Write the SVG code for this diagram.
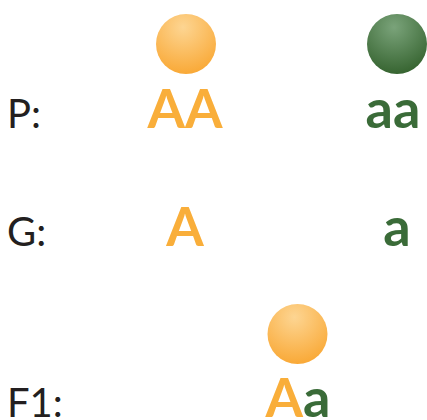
<svg xmlns="http://www.w3.org/2000/svg" width="427" height="420" viewBox="0 0 427 420">
<style>
.lbl{font-family:Lato,"Liberation Sans",sans-serif;font-size:40px;fill:#231f20}
.g{font-family:Lato,"Liberation Sans",sans-serif;font-size:54px;font-weight:bold;text-anchor:middle}
.o{fill:#f9ae3a}
.gr{fill:#3a6b38}
</style>
<defs>
<radialGradient id="og" cx="0.45" cy="0.22" r="0.8">
<stop offset="0" stop-color="#fdd592"/>
<stop offset="1" stop-color="#f9a835"/>
</radialGradient>
<radialGradient id="gg" cx="0.45" cy="0.22" r="0.8">
<stop offset="0" stop-color="#7aa37a"/>
<stop offset="1" stop-color="#35632f"/>
</radialGradient>
</defs>
<g id="connectors"/>
<g id="label-P"><text class="lbl" x="7" y="127.5">P:</text></g>
<g id="label-G"><text class="lbl" x="7" y="245.5">G:</text></g>
<g id="label-F1"><text class="lbl" x="7" y="416.5">F1:</text></g>
<g id="parent-AA">
<circle cx="186" cy="44" r="30" fill="url(#og)"/>
<text class="g o" x="185" y="128">AA</text>
</g>
<g id="parent-aa">
<circle cx="397" cy="44" r="30" fill="url(#gg)"/>
<text class="g gr" x="393" y="128">aa</text>
</g>
<g id="gamete-A"><text class="g o" x="185" y="246">A</text></g>
<g id="gamete-a"><text class="g gr" x="397" y="246">a</text></g>
<g id="f1-Aa">
<circle cx="297.5" cy="334" r="30" fill="url(#og)"/>
<text class="g" x="298" y="417"><tspan class="o">A</tspan><tspan class="gr">a</tspan></text>
</g>
</svg>
